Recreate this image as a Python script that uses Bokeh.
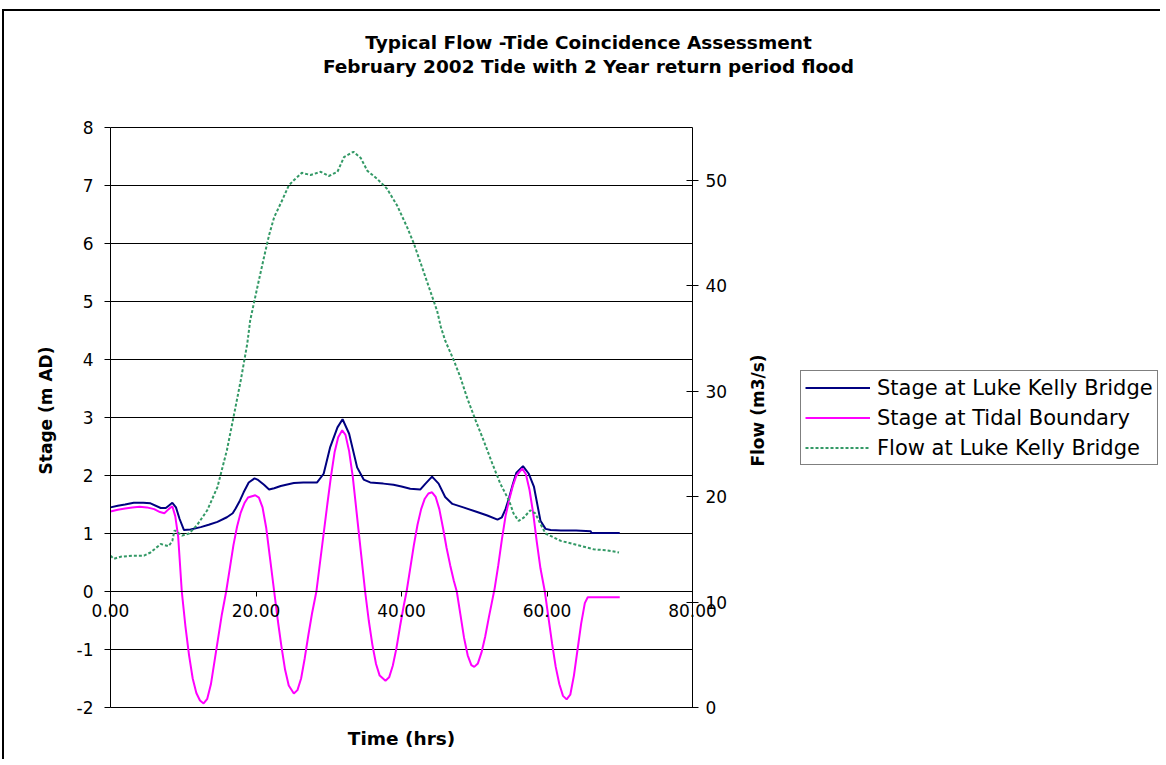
import math
from bokeh.plotting import figure
from bokeh.models import (Range1d, LinearAxis, FixedTicker, Label, Legend,
                          LegendItem, NumeralTickFormatter)
from bokeh.embed import file_html
from bokeh.resources import INLINE

# ---------------- data ----------------
TITLE_1 = "Typical Flow -Tide Coincidence Assessment"
TITLE_2 = "February 2002 Tide with 2 Year return period flood"
X_LABEL = "Time (hrs)"
Y_LABEL = "Stage (m AD)"
Y2_LABEL = "Flow (m3/s)"
SERIES_NAMES = ["Stage at Luke Kelly Bridge", "Stage at Tidal Boundary", "Flow at Luke Kelly Bridge"]

X_MIN, X_MAX = 0, 80
Y_MIN, Y_MAX = -2, 8
Y2_MIN, Y2_MAX = 0, 55
X_TICKS = [0, 20, 40, 60, 80]
Y_TICKS = [-2, -1, 0, 1, 2, 3, 4, 5, 6, 7, 8]
Y2_TICKS = [0, 10, 20, 30, 40, 50]

# Stage at Luke Kelly Bridge (m AD)
lkb_t = [0, 1, 2, 3.2, 4.5, 5.5, 6.9, 7.6, 8.0, 8.5,
         9.0, 9.5, 10.1, 11.0, 12.4, 13.5, 14.7, 16.0, 16.8, 17.2,
         17.8, 18.3, 19.0, 19.8, 20.2, 21.1, 21.8, 22.5, 23.4, 25.2,
         26.5, 28.4, 29.3, 30.2, 31.2, 31.9, 32.8, 33.9, 34.8, 35.7,
         37.5, 38.9, 40.0, 41.2, 42.6, 43.3, 44.2, 45.1, 46.0, 47.0,
         48.5, 50.4, 51.8, 53.2, 53.8, 54.3, 54.8, 55.3, 55.8, 56.7,
         57.5, 58.2, 59.1, 59.8, 60.5, 61.9, 64.0, 66.0, 66.1, 70.0]
lkb_v = [1.45, 1.48, 1.50, 1.53, 1.53, 1.52, 1.44, 1.44, 1.48, 1.53,
         1.45, 1.25, 1.06, 1.07, 1.11, 1.15, 1.20, 1.28, 1.35, 1.43,
         1.57, 1.71, 1.88, 1.95, 1.93, 1.84, 1.76, 1.78, 1.82, 1.87,
         1.88, 1.88, 2.03, 2.49, 2.83, 2.97, 2.72, 2.14, 1.93, 1.88,
         1.86, 1.84, 1.81, 1.77, 1.76, 1.86, 1.98, 1.86, 1.63, 1.51,
         1.45, 1.37, 1.31, 1.24, 1.28, 1.42, 1.62, 1.85, 2.05, 2.16,
         2.03, 1.81, 1.22, 1.08, 1.06, 1.05, 1.05, 1.04, 1.01, 1.01]

# Stage at Tidal Boundary (m AD)
tide_t = [0, 1, 2, 3, 4, 5, 6, 6.8, 7.4, 8.0,
          8.5, 8.9, 9.3, 9.8, 10.3, 10.8, 11.3, 11.8, 12.3, 12.8,
          13.3, 13.8, 14.3, 14.8, 15.3, 15.9, 16.4, 16.9, 17.4, 17.9,
          18.4, 18.9, 19.9, 20.4, 20.9, 21.4, 21.9, 22.5, 23.0, 23.5,
          24.0, 24.5, 25.2, 25.7, 26.2, 26.7, 27.2, 27.7, 28.3, 28.8,
          29.3, 29.8, 30.3, 30.8, 31.3, 31.85, 32.3, 32.8, 33.3, 33.8,
          34.4, 35.0, 35.5, 36.0, 36.5, 37.0, 37.8, 38.3, 38.8, 39.3,
          39.8, 40.3, 40.7, 41.2, 41.7, 42.2, 42.7, 43.2, 43.7, 44.2,
          44.7, 45.2, 45.7, 46.2, 46.7, 47.2, 47.6, 48.1, 48.6, 49.1,
          49.6, 50.0, 50.5, 51.0, 51.5, 52.0, 52.4, 52.8, 53.3, 53.8,
          54.3, 54.8, 55.3, 55.8, 56.6, 57.1, 57.6, 58.1, 58.6, 59.1,
          59.7, 60.2, 60.7, 61.2, 61.7, 62.2, 62.7, 63.2, 63.7, 64.2,
          64.7, 65.2, 65.6, 70.0]
tide_v = [1.38, 1.41, 1.43, 1.45, 1.46, 1.45, 1.42, 1.37, 1.35, 1.42,
          1.47, 1.30, 0.95, 0.00, -0.60, -1.10, -1.50, -1.75, -1.88, -1.93,
          -1.85, -1.60, -1.20, -0.80, -0.40, 0.00, 0.40, 0.80, 1.12, 1.36,
          1.52, 1.62, 1.66, 1.62, 1.45, 1.10, 0.60, 0.00, -0.50, -0.95,
          -1.35, -1.62, -1.76, -1.70, -1.50, -1.15, -0.75, -0.38, 0.00, 0.50,
          1.00, 1.50, 1.98, 2.40, 2.66, 2.78, 2.70, 2.42, 1.98, 1.40,
          0.70, 0.00, -0.50, -0.92, -1.25, -1.45, -1.54, -1.48, -1.28, -0.98,
          -0.60, -0.25, 0.00, 0.40, 0.80, 1.15, 1.42, 1.60, 1.69, 1.71,
          1.63, 1.42, 1.10, 0.75, 0.45, 0.18, 0.00, -0.40, -0.80, -1.10,
          -1.27, -1.30, -1.24, -1.05, -0.78, -0.45, -0.20, 0.05, 0.45, 0.90,
          1.30, 1.58, 1.82, 2.00, 2.12, 2.02, 1.75, 1.35, 0.85, 0.40,
          0.00, -0.45, -0.90, -1.30, -1.60, -1.80, -1.86, -1.78, -1.45, -1.00,
          -0.55, -0.20, -0.10, -0.10]

# Flow at Luke Kelly Bridge (m3/s)
flow_t = [0, 0.45, 1.4, 3.0, 4.6, 5.5, 6.9, 8.0, 8.5, 8.8,
          9.85, 10.8, 11.9, 13.3, 14.7, 16.0, 16.9, 17.9, 18.8, 19.2,
          20.2, 21.1, 21.8, 22.5, 23.6, 24.5, 25.2, 26.3, 27.5, 28.9,
          30.0, 31.2, 32.1, 33.4, 34.4, 35.3, 36.7, 38.0, 39.4, 40.8,
          41.7, 42.8, 44.0, 44.9, 45.4, 46.0, 47.2, 48.1, 49.0, 50.2,
          51.3, 52.5, 53.6, 54.8, 55.4, 56.1, 56.8, 57.7, 58.4, 59.1,
          59.8, 61.9, 64.2, 66.4, 68.3, 69.9]
flow_v = [14.4, 14.1, 14.3, 14.4, 14.4, 14.7, 15.5, 15.3, 15.8, 16.8,
          16.3, 16.5, 17.3, 18.7, 20.9, 24.4, 27.5, 31.0, 34.5, 36.7,
          39.9, 42.7, 44.8, 46.5, 48.1, 49.5, 50.0, 50.7, 50.5, 50.8,
          50.4, 50.8, 52.2, 52.7, 52.1, 50.9, 50.1, 49.2, 47.6, 45.5,
          44.0, 41.8, 39.4, 37.6, 36.1, 34.8, 32.9, 31.3, 29.4, 27.2,
          25.3, 23.1, 21.2, 19.6, 18.4, 17.7, 18.0, 18.7, 18.4, 17.4,
          16.5, 15.8, 15.4, 15.0, 14.9, 14.7]

# ---------------- layout (pixels on the canvas) ----------------
W, H = 1158, 750
PL, PR, PT, PB = 106, 688, 116, 696   # plot-area edges on the canvas

FONT = "DejaVu Sans"
BLUE = "#000080"
PINK = "#FF00FF"
GREEN = "#339966"

# The frame covers the whole canvas; data ranges are mapped so that the
# data area (0..80, -2..8) sits at the plot-area pixels above.
xs = (X_MAX - X_MIN) / (PR - PL)
ys = (Y_MAX - Y_MIN) / (PB - PT)
y2s = (Y2_MAX - Y2_MIN) / (PB - PT)
x_range = Range1d(X_MIN - PL * xs, X_MAX + (W - PR) * xs)
y_range = Range1d(Y_MIN - (H - PB) * ys, Y_MAX + PT * ys)
y2_range = Range1d(Y2_MIN - (H - PB) * y2s, Y2_MAX + PT * y2s)

p = figure(width=W, height=H, output_backend="svg", toolbar_location=None,
           x_range=x_range, y_range=y_range, min_border=0,
           min_border_left=0, min_border_right=0, min_border_top=0, min_border_bottom=0,
           background_fill_color="white", border_fill_color="white",
           outline_line_color=None,
           styles={"margin-left": "2px", "margin-top": "9px",
                   "border-left": "2px solid black", "border-top": "2px solid black"})
p.extra_y_ranges = {"flow": y2_range}

# horizontal grid lines, limited to the plot area 0..80
grid = p.ygrid[0]
grid.ticker = FixedTicker(ticks=Y_TICKS)
grid.grid_line_color = "black"
grid.grid_line_width = 1
if "cross_bounds" in grid.properties():
    grid.cross_bounds = (X_MIN, X_MAX)
else:
    grid.visible = False
    p.segment(x0=[X_MIN] * len(Y_TICKS), x1=[X_MAX] * len(Y_TICKS),
              y0=Y_TICKS, y1=Y_TICKS, line_color="black", line_width=1)
p.xgrid.visible = False

# x axis drawn across stage 0
p.xaxis.fixed_location = 0
p.xaxis.bounds = (X_MIN, X_MAX)
p.xaxis.ticker = FixedTicker(ticks=X_TICKS)
p.xaxis.formatter = NumeralTickFormatter(format="0.00")
p.xaxis.major_tick_out = 5
p.xaxis.major_tick_in = 0
p.xaxis.major_label_standoff = 7

p.yaxis.fixed_location = X_MIN
p.yaxis.bounds = (Y_MIN, Y_MAX)
p.yaxis.ticker = FixedTicker(ticks=Y_TICKS)
p.yaxis.formatter = NumeralTickFormatter(format="0")
p.yaxis.major_tick_out = 6
p.yaxis.major_tick_in = 0
p.yaxis.major_label_standoff = 11

ax2 = LinearAxis(y_range_name="flow", ticker=FixedTicker(ticks=Y2_TICKS),
                 formatter=NumeralTickFormatter(format="0"),
                 fixed_location=X_MAX, bounds=(Y2_MIN, Y2_MAX))
ax2.major_tick_out = 6
ax2.major_tick_in = 6
ax2.major_label_standoff = 7
p.add_layout(ax2, "right")

for ax in [p.xaxis[0], p.yaxis[0], ax2]:
    ax.axis_line_color = "black"
    ax.major_tick_line_color = "black"
    ax.minor_tick_line_color = None
    ax.major_label_text_font = FONT
    ax.major_label_text_font_size = "17px"
    ax.major_label_text_color = "black"

r_lkb = p.line(lkb_t, lkb_v, color=BLUE, line_width=2)
r_tide = p.line(tide_t, tide_v, color=PINK, line_width=2)
r_flow = p.line(flow_t, flow_v, color=GREEN, line_width=2, line_dash="3 2",
                y_range_name="flow")

legend = Legend(items=[LegendItem(label=SERIES_NAMES[0], renderers=[r_lkb]),
                       LegendItem(label=SERIES_NAMES[1], renderers=[r_tide]),
                       LegendItem(label=SERIES_NAMES[2], renderers=[r_flow])],
                location=(796, 296))
legend.label_text_font = FONT
legend.label_text_font_size = "21px"
legend.label_text_color = "black"
legend.glyph_width = 65
legend.glyph_height = 25
legend.label_height = 25
legend.label_standoff = 7
legend.spacing = 5
legend.padding = 4
legend.margin = 0
legend.border_line_color = "black"
legend.border_line_width = 1
legend.background_fill_alpha = 1
p.add_layout(legend)

def lab(text, x, y, size, angle=0.0):
    return Label(x=x, y=y, x_units="screen", y_units="screen", text=text,
                 text_align="center", text_baseline="middle", angle=angle,
                 text_font=FONT, text_font_style="bold", text_font_size=size,
                 text_color="black")

p.add_layout(lab(TITLE_1, 584, H - 31, "18.5px"))
p.add_layout(lab(TITLE_2, 584, H - 55, "18.5px"))
p.add_layout(lab(X_LABEL, (PL + PR) / 2, H - 727, "18.5px"))
p.add_layout(lab(Y_LABEL, 41, H - 399, "17px", math.pi / 2))
p.add_layout(lab(Y2_LABEL, 753, H - 399, "17px", math.pi / 2))

open("out.html", "w").write(file_html(p, INLINE))
